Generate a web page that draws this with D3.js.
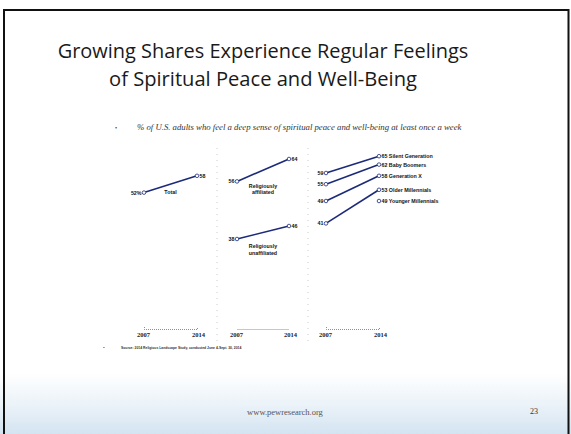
<!DOCTYPE html>
<html>
<head>
<meta charset="utf-8">
<script src="https://cdn.jsdelivr.net/npm/d3@7"></script>
<style>
  body { margin: 0; background: #fff; }
  svg { display: block; }
</style>
</head>
<body>
<svg id="slide" width="571" height="434"></svg>
<script>
// data
var years = [2007, 2014];
var totalVals = [52, 58];
var affiliatedVals = [56, 64];
var unaffiliatedVals = [38, 46];
var generations = ["Silent Generation", "Baby Boomers", "Generation X", "Older Millennials", "Younger Millennials"];
var gen2007 = [59, 55, 49, 41, null];
var gen2014 = [65, 62, 58, 53, 49];

var titleLines = ["Growing Shares Experience Regular Feelings", "of Spiritual Peace and Well-Being"];
var subtitle = "% of U.S. adults who feel a deep sense of spiritual peace and well-being at least once a week";
var sourceText = "Source: 2014 Religious Landscape Study, conducted June 4-Sept. 30, 2014";

var navy = "#1c2a7a";
var svg = d3.select("#slide");

// background: white slide fading to pale blue at bottom
var defs = svg.append("defs");
var grad = defs.append("linearGradient").attr("id", "bg").attr("x1", 0).attr("y1", 0).attr("x2", 0).attr("y2", 1);
grad.append("stop").attr("offset", "0.86").attr("stop-color", "#ffffff");
grad.append("stop").attr("offset", "0.94").attr("stop-color", "#e9f1f8");
grad.append("stop").attr("offset", "1").attr("stop-color", "#d3e4f1");
svg.append("rect").attr("width", 571).attr("height", 434).attr("fill", "url(#bg)");

// slide frame
svg.append("path").attr("d", "M4,434 L4,10 L568.5,10 L568.5,434")
   .attr("fill", "none").attr("stroke", "#111").attr("stroke-width", 2);

// title, sized to the widths in the picture
var titleWidths = [411, 308];
titleLines.forEach(function(t, i){
	var tx = svg.append("text").attr("x", 263).attr("y", 58 + i * 28)
		.attr("text-anchor", "middle")
		.style("font-family", "'Open Sans', sans-serif")
		.style("font-size", "20px").style("fill", "#1a1a1a").text(t);
	var w = tx.node().getComputedTextLength();
	tx.style("font-size", (20 * titleWidths[i] / w) + "px");
});

// subtitle
svg.append("text").attr("x", 115).attr("y", 130).style("font-size", "6px").style("fill", "#333").text("\u2022");
var sub = svg.append("text").attr("x", 137).attr("y", 130)
	.style("font-family", "'Liberation Serif', serif").style("font-style", "italic")
	.style("font-size", "7px").style("fill", "#333").text(subtitle);
var sw = sub.node().getComputedTextLength();
sub.style("font-size", (7 * 325 / sw) + "px");

// scales
var y = d3.scaleLinear().domain([40, 70]).range([226.2, 142.2]);
var yUnaff = d3.scaleLinear().domain([30, 50]).range([252, 219.5]);
var xTotal = d3.scalePoint().domain(years).range([144, 197]);
var xRel = d3.scalePoint().domain(years).range([237, 289]);
var xGen = d3.scalePoint().domain(years).range([326, 379]);

var lab = function(sel, size){
	return sel.style("font-family", "'Liberation Sans', Arial, sans-serif")
		.style("font-weight", "bold").style("font-size", (size || 5.3) + "px").style("fill", "#111");
};

function slope(g, x, ys, vals, leftText, rightText){
	var pts = [];
	years.forEach(function(yr, i){ if (vals[i] != null) pts.push([x(yr), ys(vals[i])]); });
	if (pts.length > 1) {
		g.append("path").attr("d", d3.line()(pts))
			.attr("stroke", navy).attr("stroke-width", 1.6).attr("fill", "none");
	}
	if (vals[0] != null) {
		g.append("circle").attr("cx", x(years[0])).attr("cy", ys(vals[0])).attr("r", 1.8)
			.attr("fill", "#fff").attr("stroke", navy).attr("stroke-width", 0.8);
		lab(g.append("text").attr("x", x(years[0]) - 2.5).attr("y", ys(vals[0]) + 1.9)
			.attr("text-anchor", "end").text(leftText));
	}
	g.append("circle").attr("cx", x(years[1])).attr("cy", ys(vals[1])).attr("r", 1.8)
		.attr("fill", "#fff").attr("stroke", navy).attr("stroke-width", 0.8);
	lab(g.append("text").attr("x", x(years[1]) + 2.5).attr("y", ys(vals[1]) + 1.9).text(rightText));
}

var chart = svg.append("g");

// panel 1: total
slope(chart, xTotal, y, totalVals, totalVals[0] + "%", totalVals[1]);
lab(chart.append("text").attr("x", (xTotal(2007) + xTotal(2014)) / 2).attr("y", y(51.5))
	.attr("text-anchor", "middle").text("Total"));

// panel 2: affiliated / unaffiliated
slope(chart, xRel, y, affiliatedVals, affiliatedVals[0], affiliatedVals[1]);
slope(chart, xRel, yUnaff, unaffiliatedVals, unaffiliatedVals[0], unaffiliatedVals[1]);
var relMid = (xRel(2007) + xRel(2014)) / 2;
lab(chart.append("text").attr("x", relMid).attr("y", y(53.7)).attr("text-anchor", "middle").text("Religiously"));
lab(chart.append("text").attr("x", relMid).attr("y", y(51.5)).attr("text-anchor", "middle").text("affiliated"));
lab(chart.append("text").attr("x", relMid).attr("y", yUnaff(32.7)).attr("text-anchor", "middle").text("Religiously"));
lab(chart.append("text").attr("x", relMid).attr("y", yUnaff(28)).attr("text-anchor", "middle").text("unaffiliated"));

// panel 3: generations
generations.forEach(function(name, i){
	slope(chart, xGen, y, [gen2007[i], gen2014[i]], gen2007[i], gen2014[i] + " " + name);
});

// dotted panel separators
[217, 308].forEach(function(sx){
	chart.append("line").attr("x1", sx).attr("x2", sx).attr("y1", 148).attr("y2", 345)
		.attr("stroke", "#aaa").attr("stroke-width", 0.6).attr("stroke-dasharray", "1,5");
});

// year axes
[xTotal, xRel, xGen].forEach(function(x, i){
	var ax = chart.append("g").attr("transform", "translate(0,329)")
		.call(d3.axisBottom(x).tickSize(0).tickSizeOuter(i == 1 ? 0 : -2).tickPadding(3));
	ax.select(".domain").attr("stroke", "#444").attr("stroke-width", 0.6).attr("stroke-dasharray", "1,1");
	ax.selectAll("text").style("font-family", "'Liberation Serif', serif")
		.style("font-weight", "bold").style("font-size", "6.5px").style("fill", "#222");
	ax.selectAll("text").attr("dx", function(d){ return d == 2007 ? "-1" : "1"; });
});

// source
svg.append("text").attr("x", 103).attr("y", 349).style("font-size", "5px").style("fill", "#333").text("\u2022");
lab(svg.append("text").attr("x", 121).attr("y", 349), 3.4).style("fill", "#333").text(sourceText);

// footer
svg.append("text").attr("x", 285).attr("y", 415).attr("text-anchor", "middle")
	.style("font-family", "'Liberation Serif', serif").style("font-size", "8.5px").style("fill", "#555")
	.text("www.pewresearch.org");
svg.append("text").attr("x", 534).attr("y", 414).attr("text-anchor", "middle")
	.style("font-family", "'Liberation Serif', serif").style("font-size", "8px").style("fill", "#333")
	.text("23");
</script>
</body>
</html>
